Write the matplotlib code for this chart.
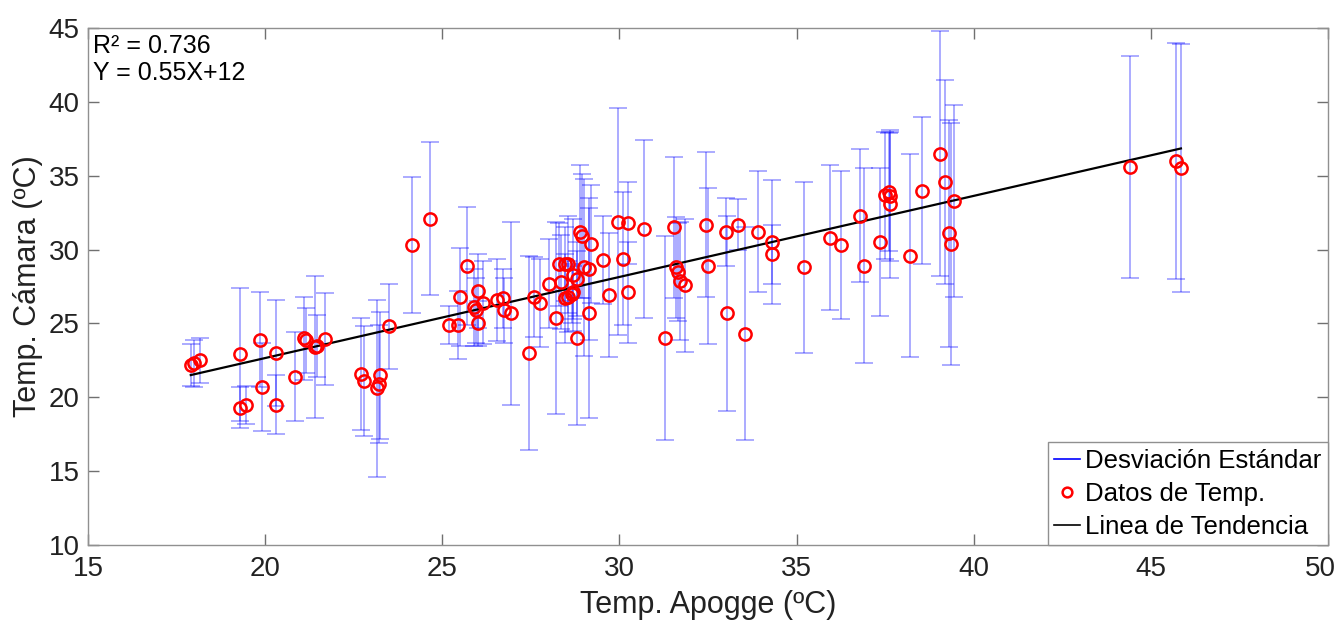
import matplotlib
matplotlib.use("Agg")
import matplotlib.pyplot as plt
from matplotlib.lines import Line2D
import matplotlib.transforms as mtransforms
import numpy as np

plt.rcParams['font.family'] = ['Liberation Sans', 'DejaVu Sans']

# Temp. Apogge (x), Temp. Camara (y), desviacion estandar (err)
temp_apogge = [17.9, 18.0, 18.15, 19.3, 19.3, 19.45, 19.85, 19.9, 20.3, 20.3,
               20.85, 21.1, 21.15, 21.4, 21.45, 21.7, 22.7, 22.8, 23.15, 23.2,
               23.25, 23.5, 24.15, 24.65, 25.2, 25.45, 25.5, 25.7, 25.9, 25.95,
               26.0, 26.15, 26.0, 26.55, 26.7, 26.75, 26.95, 27.45, 27.6, 27.75,
               28.0, 28.2, 28.3, 28.35, 28.45, 28.55, 28.45, 28.55, 28.65, 28.7,
               28.7, 28.8, 28.8, 28.9, 28.95, 29.0, 29.15, 29.2, 29.15, 29.55,
               29.7, 29.95, 30.1, 30.25, 30.25, 30.7, 31.3, 31.55, 31.6, 31.65,
               31.7, 31.85, 32.45, 32.5, 33.0, 33.05, 33.35, 33.55, 33.9, 34.3,
               34.3, 35.2, 35.95, 36.25, 36.8, 36.9, 37.35, 37.5, 37.6, 37.65,
               37.65, 38.2, 38.55, 39.05, 39.2, 39.45, 39.3, 39.35, 44.4, 45.7,
               45.85]
temp_camara = [22.2, 22.3, 22.5, 22.9, 19.3, 19.5, 23.9, 20.7, 23.0, 19.5,
               21.4, 24.0, 23.85, 23.4, 23.5, 23.95, 21.6, 21.1, 20.6, 20.9,
               21.5, 24.8, 30.3, 32.1, 24.9, 24.9, 26.8, 28.9, 26.1, 25.9,
               27.2, 26.4, 25.0, 26.6, 26.7, 25.9, 25.7, 23.0, 26.8, 26.4,
               27.7, 25.4, 29.0, 27.8, 29.0, 29.0, 26.7, 26.8, 27.0, 27.1,
               28.3, 28.0, 24.0, 31.2, 30.9, 28.8, 28.7, 30.4, 25.7, 29.3,
               26.9, 31.9, 29.4, 31.8, 27.1, 31.4, 24.0, 31.5, 28.8, 28.5,
               27.9, 27.6, 31.7, 28.9, 31.2, 25.7, 31.7, 24.3, 31.2, 30.5,
               29.7, 28.8, 30.8, 30.3, 32.3, 28.9, 30.5, 33.7, 33.9, 33.6,
               33.1, 29.6, 34.0, 36.5, 34.6, 33.3, 31.1, 30.4, 35.6, 36.0,
               35.5]
desviacion = [1.4, 1.6, 1.5, 4.5, 1.4, 1.3, 3.2, 3.0, 3.6, 2.0,
              3.0, 2.8, 2.2, 4.8, 2.1, 3.1, 3.8, 3.7, 6.0, 4.0,
              4.3, 2.9, 4.6, 5.2, 1.3, 2.3, 3.3, 4.0, 2.6, 2.2,
              2.5, 2.8, 1.5, 2.8, 2.0, 2.2, 6.2, 6.6, 2.7, 3.0,
              3.0, 6.5, 2.8, 3.2, 2.5, 3.3, 3.0, 2.4, 2.0, 1.8,
              3.8, 2.5, 5.9, 4.5, 4.2, 6.0, 4.8, 4.0, 7.1, 3.0,
              4.2, 7.7, 4.5, 2.8, 3.4, 6.0, 6.9, 4.8, 3.4, 3.3,
              4.0, 4.5, 4.9, 5.3, 2.3, 6.6, 1.7, 7.2, 4.1, 4.2,
              2.0, 5.8, 4.9, 5.0, 4.5, 6.6, 5.0, 4.3, 4.0, 4.4,
              5.0, 6.9, 5.0, 8.3, 6.9, 6.5, 7.7, 8.2, 7.5, 8.0,
              8.4]

# linea de tendencia
pendiente = 0.549
intercepto = 11.68

fig = plt.figure(figsize=(13.4, 6.25), dpi=100)
ax = fig.add_axes([0.0657, 0.128, 0.9253, 0.827])

ax.errorbar(temp_apogge, temp_camara, yerr=desviacion, fmt='none',
            ecolor='blue', elinewidth=1.1, capsize=6.8, capthick=1.1,
            alpha=0.42, zorder=2)
ax.plot(temp_apogge, temp_camara, 'o', mfc='none', mec='red', ms=8.8, mew=1.8,
        zorder=4)

xt = np.array([min(temp_apogge), max(temp_apogge)])
ax.plot(xt, pendiente * xt + intercepto, color='black', lw=1.6, zorder=3)

ax.set_xlim(15, 50)
ax.set_ylim(10, 45)
ax.set_xticks(range(15, 51, 5))
ax.set_yticks(range(10, 46, 5))
ax.tick_params(direction='in', top=True, right=True, length=8, width=1,
               color='#707070', labelsize=20, labelcolor='#222222')
ax.tick_params(axis='x', pad=8)
ax.tick_params(axis='y', pad=6)
for s in ax.spines.values():
    s.set_color('#909090')
    s.set_linewidth(1)

# el "50" queda pegado al borde derecho, se corre un poco a la izquierda
ultimo = ax.get_xticklabels()[-1]
ultimo.set_transform(ultimo.get_transform() +
                     mtransforms.ScaledTranslation(-8 / 100, 0, fig.dpi_scale_trans))

ax.set_xlabel('Temp. Apogge (ºC)', fontsize=22, color='#222222', labelpad=6)
ax.set_ylabel('Temp. Cámara (ºC)', fontsize=22, color='#222222', labelpad=4)

ax.text(0.004, 0.988, 'R² = 0.736\nY = 0.55X+12', transform=ax.transAxes,
        ha='left', va='top', fontsize=18, linespacing=1.15)

handles = [Line2D([], [], color='blue', lw=1.2),
           Line2D([], [], ls='none', marker='o', mfc='none', mec='red', ms=7, mew=1.8),
           Line2D([], [], color='black', lw=1.2)]
leg = ax.legend(handles, ['Desviación Estándar', 'Datos de Temp.', 'Linea de Tendencia'],
                loc='lower right', borderaxespad=0, fontsize=18.5, fancybox=False,
                framealpha=1, edgecolor='#909090', handlelength=1.0,
                handletextpad=0.2, labelspacing=0.35, borderpad=0.25)
leg.get_frame().set_linewidth(1)

fig.savefig('out.png', dpi=100)
